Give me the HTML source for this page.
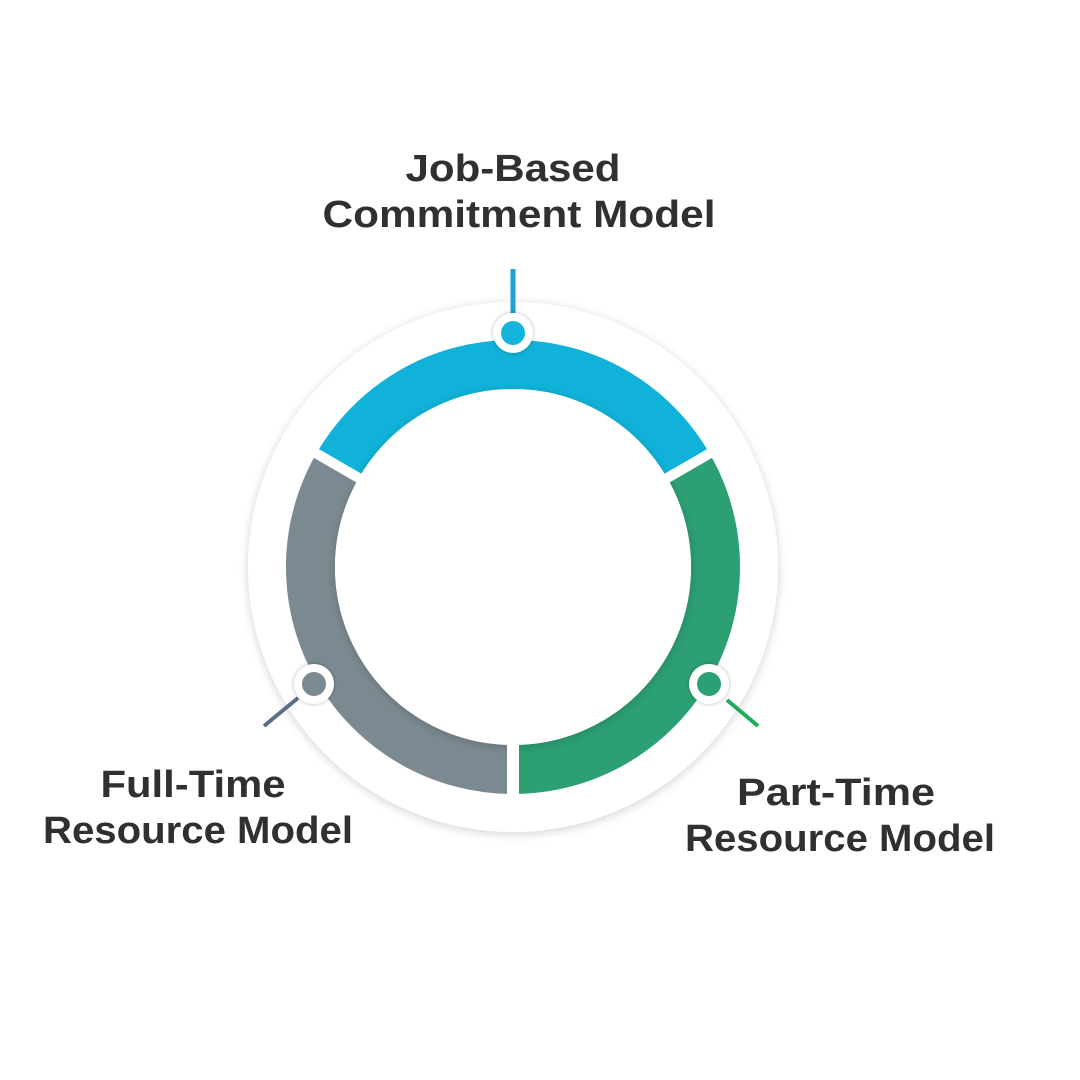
<!DOCTYPE html>
<html><head><meta charset="utf-8"><style>
html,body{margin:0;padding:0;background:#fff;}
svg{display:block;}
text{font-family:"Liberation Sans",sans-serif;font-weight:bold;fill:#2f3030;font-size:38px;}
</style></head><body>
<svg width="1080" height="1080" viewBox="0 0 1080 1080">
<defs>
<filter id="sh" x="-20%" y="-20%" width="140%" height="140%"><feGaussianBlur in="SourceAlpha" stdDeviation="5"/><feOffset dx="0" dy="2"/><feComponentTransfer><feFuncA type="linear" slope="0.18"/></feComponentTransfer><feMerge><feMergeNode/><feMergeNode in="SourceGraphic"/></feMerge></filter>
<filter id="sh2" x="-50%" y="-50%" width="200%" height="200%"><feGaussianBlur in="SourceAlpha" stdDeviation="2"/><feComponentTransfer><feFuncA type="linear" slope="0.3"/></feComponentTransfer><feMerge><feMergeNode/><feMergeNode in="SourceGraphic"/></feMerge></filter>
</defs>
<circle cx="513" cy="567" r="265" fill="#fff" filter="url(#sh)"/>
<g fill="none" stroke-width="49">
<path d="M337.6 465.75 A202.5 202.5 0 0 1 688.4 465.75" stroke="#10b2d9"/>
<path d="M688.4 465.75 A202.5 202.5 0 0 1 513 769.5" stroke="#2ca073"/>
<path d="M513 769.5 A202.5 202.5 0 0 1 337.6 465.75" stroke="#7b8a91"/>
</g>
<circle cx="513" cy="567" r="178" fill="#fff" filter="url(#sh)"/>
<g stroke="#fff" stroke-width="10">
<line x1="664.6" y1="479.5" x2="713.9" y2="451"/>
<line x1="361.4" y1="479.5" x2="312.1" y2="451"/>
<line x1="513" y1="742" x2="513" y2="799" stroke-width="12"/>
</g>
<line x1="513" y1="269" x2="513" y2="313" stroke="#1ea3d8" stroke-width="5"/>
<line x1="298" y1="698" x2="264" y2="726" stroke="#5a6e85" stroke-width="4"/>
<line x1="727" y1="700" x2="758" y2="726" stroke="#1fae5a" stroke-width="4"/>
<g filter="url(#sh2)">
<circle cx="513" cy="333" r="20" fill="#fff"/>
<circle cx="314" cy="684" r="20" fill="#fff"/>
<circle cx="709" cy="684" r="20" fill="#fff"/>
</g>
<circle cx="513" cy="333" r="12" fill="#12b4dc"/>
<circle cx="314" cy="684" r="12" fill="#7b8a91"/>
<circle cx="709" cy="684" r="12" fill="#2ca073"/>
<text x="513" y="181" text-anchor="middle" textLength="215" lengthAdjust="spacingAndGlyphs">Job-Based</text>
<text x="519" y="227" text-anchor="middle" textLength="393" lengthAdjust="spacingAndGlyphs">Commitment Model</text>
<text x="193" y="797" text-anchor="middle" textLength="185" lengthAdjust="spacingAndGlyphs">Full-Time</text>
<text x="198" y="843" text-anchor="middle" textLength="310" lengthAdjust="spacingAndGlyphs">Resource Model</text>
<text x="836" y="805" text-anchor="middle" textLength="198" lengthAdjust="spacingAndGlyphs">Part-Time</text>
<text x="840" y="851" text-anchor="middle" textLength="310" lengthAdjust="spacingAndGlyphs">Resource Model</text>
</svg>
</body></html>
